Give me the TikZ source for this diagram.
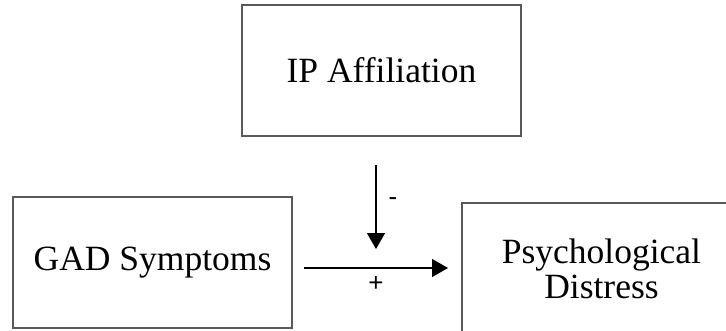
\documentclass[tikz,border=0pt]{standalone}
\usepackage{fontspec}
\setmainfont{Liberation Serif}
\newfontfamily\signfont{Liberation Sans}
\usetikzlibrary{arrows.meta}
\begin{document}
\begin{tikzpicture}[x=1pt,y=-1pt,
  varbox/.style={draw=black!65, line width=1.4pt, rectangle, inner sep=0pt,
    minimum width=279pt, minimum height=131pt, align=center,
    font=\fontsize{35.5}{35}\selectfont},
  effect/.style={draw=black, line width=1.4pt,
    -{Triangle[length=16pt,width=18pt]}},
  sign/.style={font=\signfont\fontsize{26}{26}\selectfont, inner sep=0pt}]
  \useasboundingbox (0,0) rectangle (726,330);
  \clip (0,0) rectangle (726,330);
  \fill[white] (0,0) rectangle (726,330);
  % variables
  \node[varbox] (ip)   at (381.5,70.5)  {IP Affiliation};
  \node[varbox] (gad)  at (152.5,262.5) {GAD Symptoms};
  \node[varbox] (dist) at (601.5,268.5) {Psychological\\Distress};
  % moderation and direct effect
  \coordinate (modtop) at (376,165);
  \coordinate (modend) at (376,249);
  \coordinate (pathstart) at (304,268);
  \coordinate (pathend) at (448,268);
  \draw[effect] (modtop) -- (modend);
  \draw[effect] (pathstart) -- (pathend);
  \node[sign] (minus) at (393,202) {-};
  \node[sign] (plus)  at (376,284) {+};
\end{tikzpicture}
\end{document}
